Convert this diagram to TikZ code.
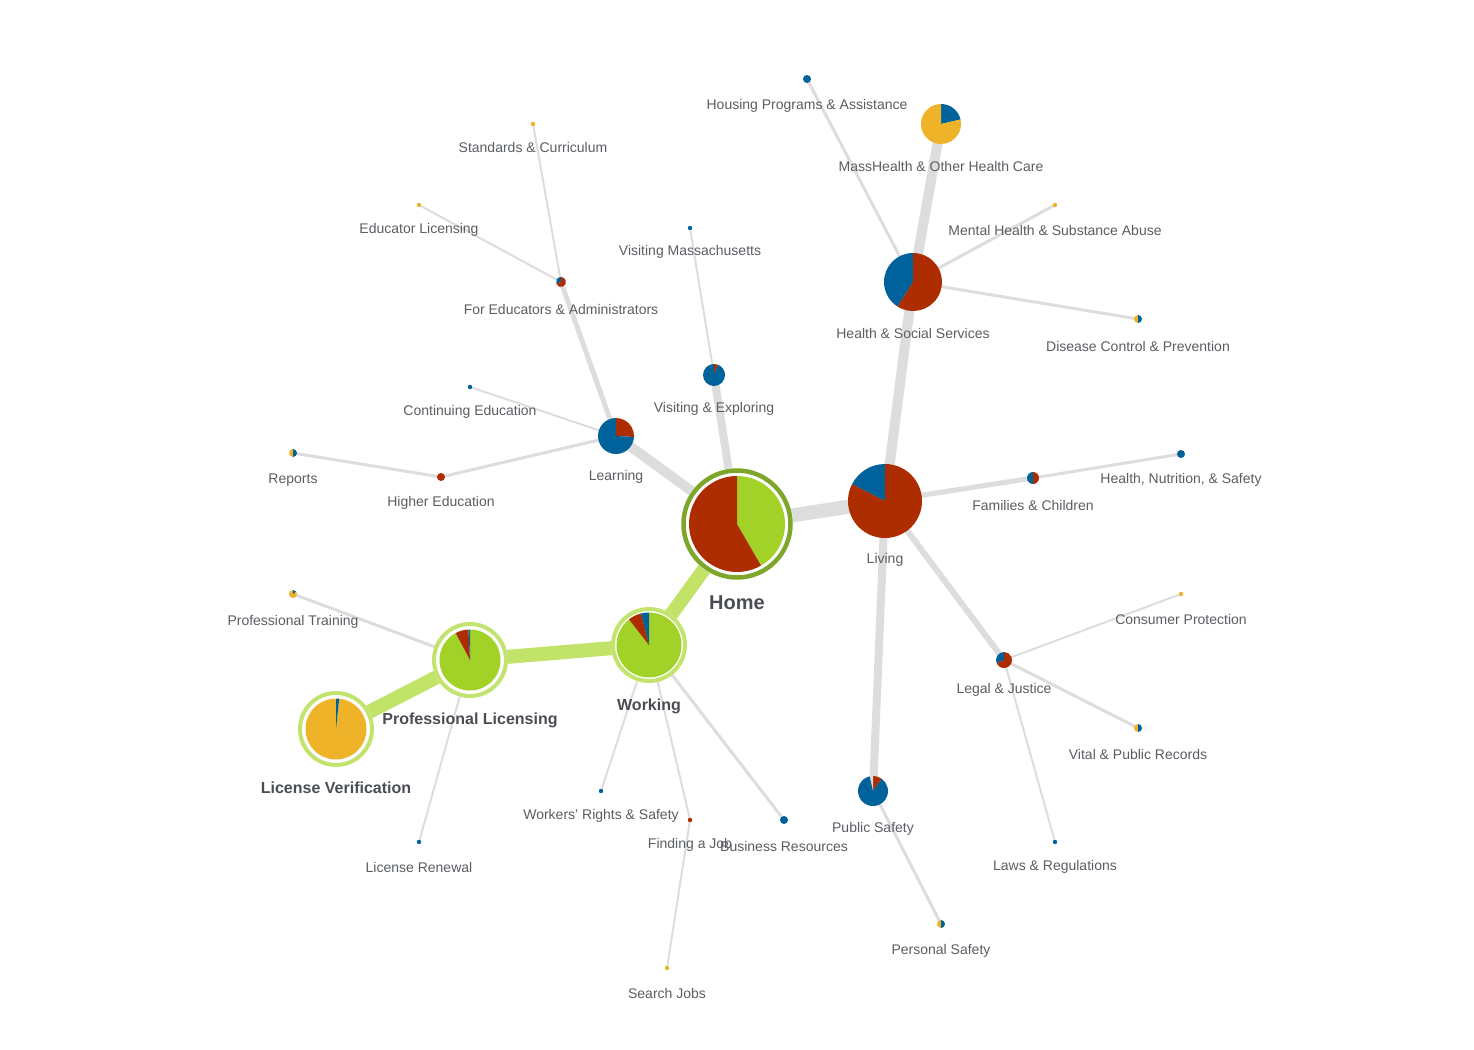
\documentclass[tikz,border=0pt]{standalone}
\usepackage{fontspec}
\setmainfont{Liberation Sans}
\definecolor{cred}{HTML}{AD2C00}
\definecolor{cblue}{HTML}{00629B}
\definecolor{cyel}{HTML}{EFB32A}
\definecolor{cgreen}{HTML}{A2D128}
\definecolor{cring}{HTML}{7DA62A}
\definecolor{clring}{HTML}{C2E46E}
\definecolor{cedge}{HTML}{DDDDDD}
\definecolor{cgedge}{HTML}{C0E368}
\definecolor{ctext}{HTML}{5A5E63}
\definecolor{cbold}{HTML}{4A4E54}
\newcommand{\pslice}[5]{\fill[#5] (#1) -- ++(#3:#2pt) arc[start angle=#3, end angle=#4, radius=#2pt] -- cycle;}
\newcommand{\pdisc}[3]{\fill[#3] (#1) circle[radius=#2pt];}
\tikzset{
  lbl/.style={text=ctext, font=\fontsize{14}{16}\selectfont, inner sep=0pt, yshift=-2pt},
  blbl/.style={text=cbold, font=\fontsize{16}{18}\selectfont\bfseries, inner sep=0pt, yshift=-1.5pt},
  edge/.style={draw=cedge},
  gedge/.style={draw=cgedge, line width=14pt},
}
\begin{document}
\begin{tikzpicture}[x=1pt,y=1pt]
\fill[white] (0,0) rectangle (1474,-1049);
\useasboundingbox (0,0) rectangle (1474,-1049);
% centres
\coordinate (home) at (737,-524);
\coordinate (living) at (885,-501);
\coordinate (health) at (913,-282);
\coordinate (mass) at (941,-124);
\coordinate (housing) at (807,-79);
\coordinate (mental) at (1055,-205);
\coordinate (disease) at (1138,-319);
\coordinate (families) at (1033,-478);
\coordinate (hns) at (1181,-454);
\coordinate (legal) at (1004,-660);
\coordinate (consumer) at (1181,-594);
\coordinate (vital) at (1138,-728);
\coordinate (laws) at (1055,-842);
\coordinate (pubsafety) at (873,-791);
\coordinate (personal) at (941,-924);
\coordinate (learning) at (616,-436);
\coordinate (foredu) at (561,-282);
\coordinate (standards) at (533,-124);
\coordinate (edulic) at (419,-205);
\coordinate (conted) at (470,-387);
\coordinate (highered) at (441,-477);
\coordinate (reports) at (293,-453);
\coordinate (visit) at (714,-375);
\coordinate (visitma) at (690,-228);
\coordinate (working) at (649,-645);
\coordinate (workers) at (601,-791);
\coordinate (finding) at (690,-820);
\coordinate (search) at (667,-968);
\coordinate (business) at (784,-820);
\coordinate (proflic) at (470,-660);
\coordinate (training) at (293,-594);
\coordinate (renewal) at (419,-842);
\coordinate (licver) at (336,-729);
% grey edges
\draw[edge,line width=14pt] (home) -- (living);
\draw[edge,line width=10pt] (home) -- (learning);
\draw[edge,line width=8pt] (home) -- (visit);
\draw[edge,line width=10pt] (living) -- (health);
\draw[edge,line width=10pt] (health) -- (mass);
\draw[edge,line width=3pt] (health) -- (housing);
\draw[edge,line width=3pt] (health) -- (mental);
\draw[edge,line width=3pt] (health) -- (disease);
\draw[edge,line width=5pt] (living) -- (families);
\draw[edge,line width=3pt] (families) -- (hns);
\draw[edge,line width=6pt] (living) -- (legal);
\draw[edge,line width=2pt] (legal) -- (consumer);
\draw[edge,line width=3pt] (legal) -- (vital);
\draw[edge,line width=2pt] (legal) -- (laws);
\draw[edge,line width=8pt] (living) -- (pubsafety);
\draw[edge,line width=3pt] (pubsafety) -- (personal);
\draw[edge,line width=5pt] (learning) -- (foredu);
\draw[edge,line width=2pt] (foredu) -- (standards);
\draw[edge,line width=2pt] (foredu) -- (edulic);
\draw[edge,line width=2pt] (learning) -- (conted);
\draw[edge,line width=3pt] (learning) -- (highered);
\draw[edge,line width=3pt] (highered) -- (reports);
\draw[edge,line width=2pt] (visit) -- (visitma);
\draw[edge,line width=2pt] (working) -- (workers);
\draw[edge,line width=2pt] (working) -- (finding);
\draw[edge,line width=3pt] (working) -- (business);
\draw[edge,line width=2pt] (finding) -- (search);
\draw[edge,line width=3pt] (proflic) -- (training);
\draw[edge,line width=2pt] (proflic) -- (renewal);
% green edges
\draw[gedge] (home) -- (working);
\draw[gedge] (working) -- (proflic);
\draw[gedge] (proflic) -- (licver);
% ringed nodes
\fill[white] (home) circle[radius=56pt];
\draw[cring,line width=4.5pt] (home) circle[radius=53.5pt];
\pslice{home}{48}{90}{-60}{cgreen}
\pslice{home}{48}{-60}{-270}{cred}
\fill[white] (working) circle[radius=38pt];
\draw[clring,line width=4pt] (working) circle[radius=36pt];
\pslice{working}{32.5}{90}{-256}{cgreen}
\pslice{working}{32.5}{104}{128}{cred}
\pslice{working}{32.5}{90}{104}{cblue}
\fill[white] (proflic) circle[radius=38pt];
\draw[clring,line width=4pt] (proflic) circle[radius=36pt];
\pslice{proflic}{30.5}{90}{-242}{cgreen}
\pslice{proflic}{30.5}{93}{118}{cred}
\pslice{proflic}{30.5}{90}{93}{cblue}
\fill[white] (licver) circle[radius=38pt];
\draw[clring,line width=4pt] (licver) circle[radius=36pt];
\pslice{licver}{30.5}{84}{-270}{cyel}
\pslice{licver}{30.5}{84}{90}{cblue}
% plain pies
\pslice{living}{37}{90}{153}{cblue}
\pslice{living}{37}{153}{450}{cred}
\pslice{health}{29}{90}{238}{cblue}
\pslice{health}{29}{238}{450}{cred}
\pslice{mass}{20}{13}{90}{cblue}
\pslice{mass}{20}{90}{373}{cyel}
\pslice{learning}{18}{90}{-3}{cred}
\pslice{learning}{18}{90}{357}{cblue}
\pslice{visit}{11}{68}{90}{cred}
\pslice{visit}{11}{90}{428}{cblue}
\pslice{pubsafety}{15}{55}{90}{cred}
\pslice{pubsafety}{15}{90}{103}{cedge}
\pslice{pubsafety}{15}{103}{415}{cblue}
\pslice{legal}{8}{90}{205}{cblue}
\pslice{legal}{8}{205}{450}{cred}
\pslice{families}{6}{90}{270}{cblue}
\pslice{families}{6}{-90}{90}{cred}
\pslice{foredu}{5}{90}{200}{cblue}
\pslice{foredu}{5}{200}{450}{cred}
% small dots
\pdisc{housing}{4}{cblue}
\pdisc{mental}{2.2}{cyel}
\pslice{disease}{4}{90}{270}{cyel}
\pslice{disease}{4}{-90}{90}{cblue}
\pdisc{hns}{4}{cblue}
\pdisc{consumer}{2.2}{cyel}
\pslice{vital}{4}{90}{270}{cyel}
\pslice{vital}{4}{-90}{90}{cblue}
\pdisc{laws}{2.2}{cblue}
\pslice{personal}{4}{90}{270}{cyel}
\pslice{personal}{4}{-90}{90}{cblue}
\pdisc{business}{4}{cblue}
\pdisc{finding}{2.2}{cred}
\pdisc{search}{2.2}{cyel}
\pdisc{workers}{2.2}{cblue}
\pdisc{renewal}{2.2}{cblue}
\pslice{training}{4}{90}{400}{cyel}
\pslice{training}{4}{40}{90}{cblue}
\pslice{reports}{4}{90}{270}{cyel}
\pslice{reports}{4}{-90}{90}{cblue}
\pdisc{highered}{4}{cred}
\pdisc{conted}{2.2}{cblue}
\pdisc{edulic}{2.2}{cyel}
\pdisc{standards}{2.2}{cyel}
\pdisc{visitma}{2.2}{cblue}
% labels
\node[text=cbold, font=\fontsize{20}{22}\selectfont\bfseries, inner sep=0pt, yshift=-1pt] (l-home) at (737,-602) {Home};
\node[blbl] (l-working) at (649,-705) {Working};
\node[blbl] (l-proflic) at (470,-719) {Professional Licensing};
\node[blbl] (l-licver) at (336,-786) {License Verification};
\node[lbl] (l-living) at (885,-558) {Living};
\node[lbl] (l-health) at (913,-331) {Health \& Social Services};
\node[lbl] (l-mass) at (941,-164) {MassHealth \& Other Health Care};
\node[lbl] (l-housing) at (807,-104) {Housing Programs \& Assistance};
\node[lbl] (l-mental) at (1055,-228) {Mental Health \& Substance Abuse};
\node[lbl] (l-disease) at (1138,-344) {Disease Control \& Prevention};
\node[lbl] (l-families) at (1033,-503) {Families \& Children};
\node[lbl] (l-hns) at (1181,-478) {Health, Nutrition, \& Safety};
\node[lbl] (l-legal) at (1004,-688) {Legal \& Justice};
\node[lbl] (l-consumer) at (1181,-617) {Consumer Protection};
\node[lbl] (l-vital) at (1138,-752) {Vital \& Public Records};
\node[lbl] (l-laws) at (1055,-865) {Laws \& Regulations};
\node[lbl] (l-pubsafety) at (873,-827) {Public Safety};
\node[lbl] (l-personal) at (941,-949) {Personal Safety};
\node[lbl] (l-learning) at (616,-475) {Learning};
\node[lbl] (l-foredu) at (561,-307) {For Educators \& Administrators};
\node[lbl] (l-standards) at (533,-145) {Standards \& Curriculum};
\node[lbl] (l-edulic) at (419,-228) {Educator Licensing};
\node[lbl] (l-conted) at (470,-410) {Continuing Education};
\node[lbl] (l-highered) at (441,-501) {Higher Education};
\node[lbl] (l-reports) at (293,-478) {Reports};
\node[lbl] (l-visit) at (714,-407) {Visiting \& Exploring};
\node[lbl] (l-visitma) at (690,-250) {Visiting Massachusetts};
\node[lbl] (l-workers) at (601,-814) {Workers' Rights \& Safety};
\node[lbl] (l-finding) at (690,-843) {Finding a Job};
\node[lbl] (l-business) at (784,-844) {Business Resources};
\node[lbl] (l-search) at (667,-991) {Search Jobs};
\node[lbl] (l-training) at (293,-620) {Professional Training};
\node[lbl] (l-renewal) at (419,-865) {License Renewal};
\end{tikzpicture}
\end{document}
